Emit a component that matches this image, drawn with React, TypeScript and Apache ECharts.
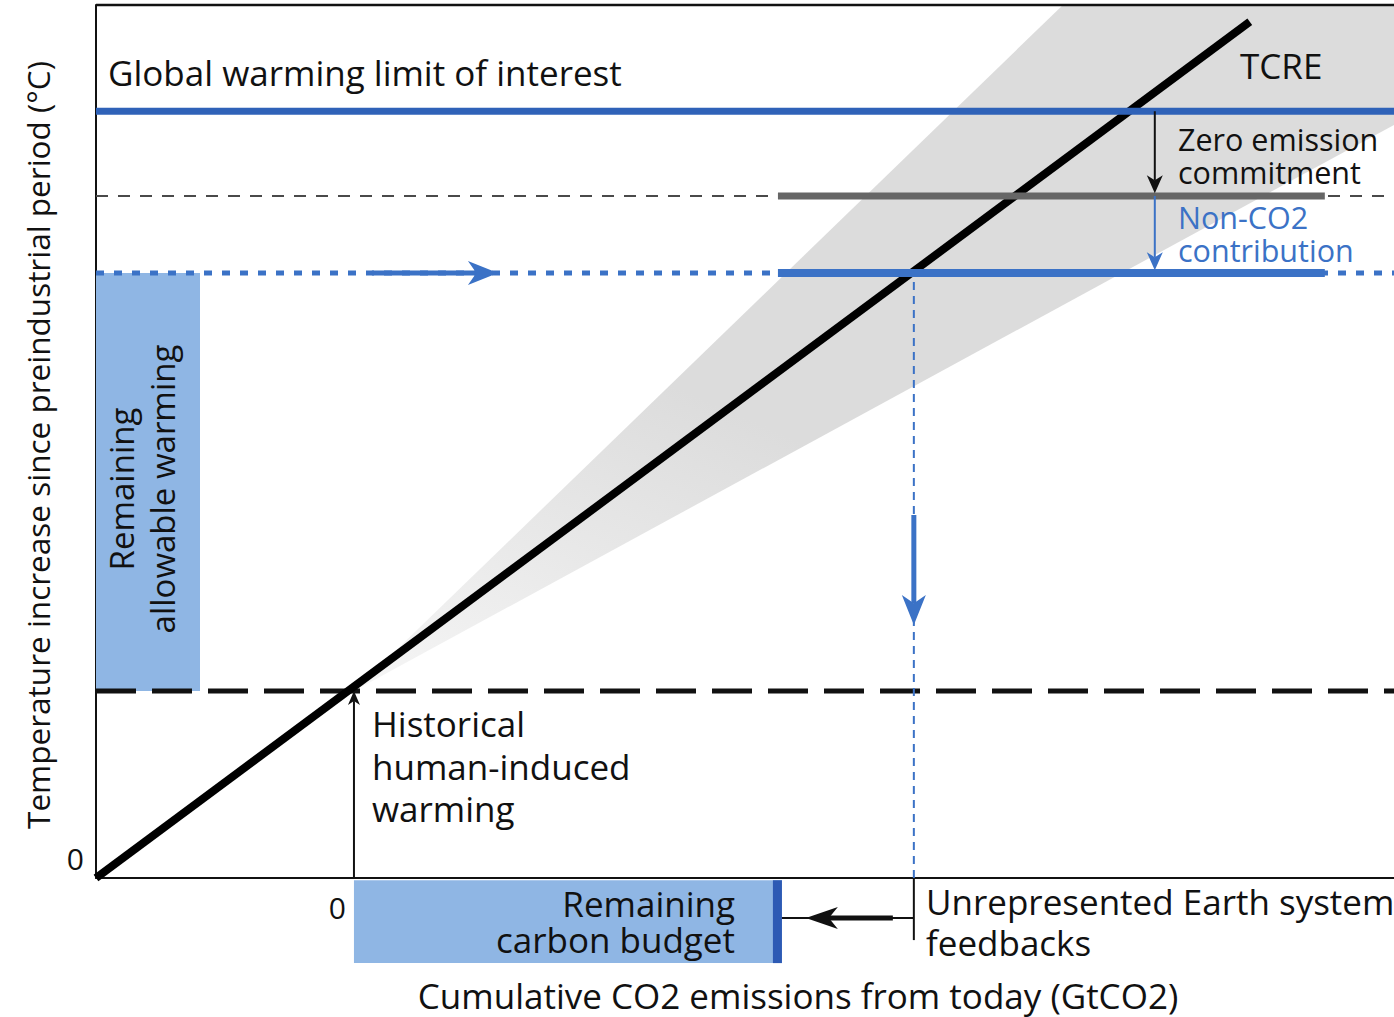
import React, { useEffect, useRef } from "react";
import * as echarts from "echarts";

// Axis extents (schematic units: GtCO2 from today, °C since preindustrial)
const X_MIN = -2200;
const X_MAX = 8870;
const Y_MIN = 0;
const Y_MAX = 4.668;

// TCRE line
const tcreLine = [
  [-2200, 0],
  [7640, 4.578],
];
// Grey uncertainty cone around TCRE
const coneVertices = [
  [0, 1.0],
  [6046, 4.668],
  [8870, 4.668],
  [8870, 4.027],
];
// Warming levels
const historicalWarming = 1.0;
const warmingLimit = 4.1;
const limitAfterZec = 3.647;
const limitAfterNonCo2 = 3.235;
// Emission positions
const barStart = 3616;
const barEnd = 8280;
const budgetFromTcre = 4775;
const budgetAfterFeedback = 3650;
const boxRight = -1313;
const budgetBoxDepth = -0.455;
const feedbackLevel = -0.214;
const feedbackTickDepth = -0.332;
const arrowColumnX = 6830;

const BLACK = "#111111";
const BLUE = "#2f62b8";
const BLUE2 = "#3b72c6";
const LIGHT_BLUE = "#8fb6e4";
const FONT = "Open Sans";

// rectangles [x0, y0, x1, y1]
const rects = [
  [X_MIN, historicalWarming, boxRight, limitAfterNonCo2],
  [0, -0.012, budgetAfterFeedback, budgetBoxDepth],
  [budgetAfterFeedback - 77, -0.012, budgetAfterFeedback, budgetBoxDepth],
];
const rectFills = [LIGHT_BLUE, LIGHT_BLUE, "#2d5ab4"];

// arrows [xTail, yTail, xTip, yTip]
const arrows = [
  [0, 0, 0, historicalWarming],
  [arrowColumnX, warmingLimit, arrowColumnX, limitAfterZec + 0.015],
  [arrowColumnX, limitAfterZec, arrowColumnX, limitAfterNonCo2 + 0.015],
  [153, limitAfterNonCo2, 1228, limitAfterNonCo2],
  [budgetFromTcre, 1.941, budgetFromTcre, 1.353],
  [4596, feedbackLevel, 3854, feedbackLevel],
];
const arrowStyles = [
  { color: BLACK, lw: 2, head: 14, half: 6 },
  { color: BLACK, lw: 2, head: 18, half: 8 },
  { color: BLUE2, lw: 2, head: 18, half: 8 },
  { color: BLUE2, lw: 5, head: 30, half: 12 },
  { color: BLUE2, lw: 5, head: 30, half: 12 },
  { color: BLACK, lw: 5, head: 32, half: 11 },
];

// thin connector segments [x0, y0, x1, y1]
const segments = [
  [budgetFromTcre, feedbackLevel, budgetAfterFeedback, feedbackLevel],
  [budgetFromTcre, 0, budgetFromTcre, feedbackTickDepth],
];

function hLine(y: number, x0 = X_MIN, x1 = X_MAX) {
  return [
    [x0, y],
    [x1, y],
  ];
}

function label(text: string, x: number, y: number, size: number, extra: any = {}, style: any = {}) {
  return {
    type: "text",
    x,
    y,
    z: 100,
    zlevel: 0,
    ...extra,
    style: {
      text,
      font: `${size}px '${FONT}'`,
      fill: BLACK,
      verticalAlign: "middle",
      ...style,
    },
  };
}

export default function App() {
  const ref = useRef<HTMLDivElement>(null);
  useEffect(() => {
    if (!ref.current) return;
    const chart = echarts.init(ref.current, null, { renderer: "svg" });
    const lineSeries = (
      name: string,
      data: number[][],
      color: string,
      width: number,
      type: any = "solid",
      z = 3,
      clip = true
    ) => ({
      type: "line",
      name,
      data,
      symbol: "none",
      clip,
      z,
      silent: true,
      lineStyle: { color, width, type, cap: "butt" },
    });

    const option: any = {
      animation: false,
      grid: { left: 96, right: 0, top: 5, bottom: 139 },
      xAxis: {
        type: "value",
        min: X_MIN,
        max: X_MAX,
        interval: 2200,
        axisLine: { show: true, onZero: false, lineStyle: { color: BLACK, width: 2 } },
        axisTick: { show: false },
        splitLine: { show: false },
        axisLabel: {
          showMaxLabel: false,
          formatter: (v: number) => (v === 0 ? "0" : ""),
          align: "right",
          padding: [0, 8, 0, 0],
          margin: 14,
          fontFamily: FONT,
          fontSize: 30,
          color: BLACK,
        },
      },
      yAxis: {
        type: "value",
        min: Y_MIN,
        max: Y_MAX,
        interval: 1,
        axisLine: { show: true, onZero: false, lineStyle: { color: BLACK, width: 2 } },
        axisTick: { show: false },
        splitLine: { show: false },
        axisLabel: {
          showMaxLabel: false,
          formatter: (v: number) => (v === 0 ? "0" : ""),
          verticalAlign: "bottom",
          padding: [0, 0, 5, 0],
          margin: 12,
          fontFamily: FONT,
          fontSize: 30,
          color: BLACK,
        },
      },
      series: [
        {
          type: "custom",
          name: "cone",
          z: 1,
          clip: true,
          silent: true,
          data: [0],
          renderItem: (_p: any, api: any) => ({
            type: "polygon",
            shape: { points: coneVertices.map((v) => api.coord(v)) },
            style: {
              fill: new echarts.graphic.LinearGradient(0, 1, 0.3, 0.55, [
                { offset: 0, color: "#f6f6f6" },
                { offset: 1, color: "#dcdcdc" },
              ]),
            },
          }),
        },
        {
          type: "custom",
          name: "boxes",
          z: 2,
          clip: false,
          silent: true,
          data: rects.map((_, i) => i),
          renderItem: (p: any, api: any) => {
            const r = rects[p.dataIndex];
            const a = api.coord([r[0], r[1]]);
            const b = api.coord([r[2], r[3]]);
            return {
              type: "rect",
              shape: {
                x: Math.min(a[0], b[0]),
                y: Math.min(a[1], b[1]),
                width: Math.abs(b[0] - a[0]),
                height: Math.abs(b[1] - a[1]),
              },
              style: { fill: rectFills[p.dataIndex] },
            };
          },
        },
        lineSeries("historical", hLine(historicalWarming), BLACK, 5, [40, 16], 3),
        lineSeries("afterZecDashed", hLine(limitAfterZec), "#4a4a4a", 2, [12, 10], 3),
        lineSeries("afterNonCo2Dotted", hLine(limitAfterNonCo2), BLUE2, 5, [8, 10], 3),
        lineSeries(
          "budgetVertical",
          [
            [budgetFromTcre, 0],
            [budgetFromTcre, limitAfterNonCo2],
          ],
          BLUE2,
          2,
          [8, 6],
          3
        ),
        lineSeries("tcre", tcreLine, "#000000", 8, "solid", 4),
        lineSeries("limit", hLine(warmingLimit), BLUE, 7, "solid", 5),
        lineSeries("afterZecBar", hLine(limitAfterZec, barStart, barEnd), "#666666", 7, "solid", 5),
        lineSeries("afterNonCo2Bar", hLine(limitAfterNonCo2, barStart, barEnd), BLUE2, 8, "solid", 5),
        lineSeries("topFrame", hLine(Y_MAX), BLACK, 2.5, "solid", 6, false),
        {
          type: "custom",
          name: "segments",
          z: 6,
          clip: false,
          silent: true,
          data: segments.map((_, i) => i),
          renderItem: (p: any, api: any) => {
            const s = segments[p.dataIndex];
            const a = api.coord([s[0], s[1]]);
            const b = api.coord([s[2], s[3]]);
            return {
              type: "line",
              shape: { x1: a[0], y1: a[1], x2: b[0], y2: b[1] },
              style: { stroke: BLACK, lineWidth: 2 },
            };
          },
        },
        {
          type: "custom",
          name: "arrows",
          z: 7,
          clip: false,
          silent: true,
          data: arrows.map((_, i) => i),
          renderItem: (p: any, api: any) => {
            const a = arrows[p.dataIndex];
            const st = arrowStyles[p.dataIndex];
            const p0 = api.coord([a[0], a[1]]);
            const p1 = api.coord([a[2], a[3]]);
            const dx = p1[0] - p0[0];
            const dy = p1[1] - p0[1];
            const len = Math.hypot(dx, dy) || 1;
            const ux = dx / len;
            const uy = dy / len;
            const nx = -uy;
            const ny = ux;
            const L = st.head;
            const W = st.half;
            const base = [p1[0] - ux * L, p1[1] - uy * L];
            const notch = [p1[0] - ux * L * 0.72, p1[1] - uy * L * 0.72];
            return {
              type: "group",
              children: [
                {
                  type: "line",
                  shape: { x1: p0[0], y1: p0[1], x2: notch[0], y2: notch[1] },
                  style: { stroke: st.color, lineWidth: st.lw },
                },
                {
                  type: "polygon",
                  shape: {
                    points: [
                      p1,
                      [base[0] + nx * W, base[1] + ny * W],
                      notch,
                      [base[0] - nx * W, base[1] - ny * W],
                    ],
                  },
                  style: { fill: st.color },
                },
              ],
            };
          },
        },
      ],
      graphic: [
        label("Global warming limit of interest", 108, 72, 35),
        label("TCRE", 1240, 65, 35),
        label("Zero emission\ncommitment", 1178, 155, 30.5, {}, { lineHeight: 33 }),
        label("Non-CO2\ncontribution", 1178, 233, 30.5, {}, { lineHeight: 33, fill: BLUE2 }),
        label("Historical\nhuman-induced\nwarming", 372, 766, 35, {}, { lineHeight: 42.5 }),
        label("Remaining\ncarbon budget", 735, 921, 35, {}, { lineHeight: 36, align: "right" }),
        label("Unrepresented Earth system\nfeedbacks", 926, 922, 35, {}, { lineHeight: 41 }),
        label(
          "Remaining\nallowable warming",
          142,
          489,
          33,
          { rotation: Math.PI / 2 },
          { lineHeight: 41, align: "center" }
        ),
        label(
          "Temperature increase since preindustrial period (°C)",
          37,
          445,
          31.5,
          { rotation: Math.PI / 2 },
          { align: "center", lineHeight: 34 }
        ),
        label("Cumulative CO2 emissions from today (GtCO2)", 798, 995, 35, {}, { align: "center", lineHeight: 36 }),
      ],
    };
    chart.setOption(option);
    return () => chart.dispose();
  }, []);
  return (
    <div
      ref={ref}
      style={{ position: "fixed", left: 0, top: 0, width: 1394, height: 1017, background: "#ffffff" }}
    />
  );
}
